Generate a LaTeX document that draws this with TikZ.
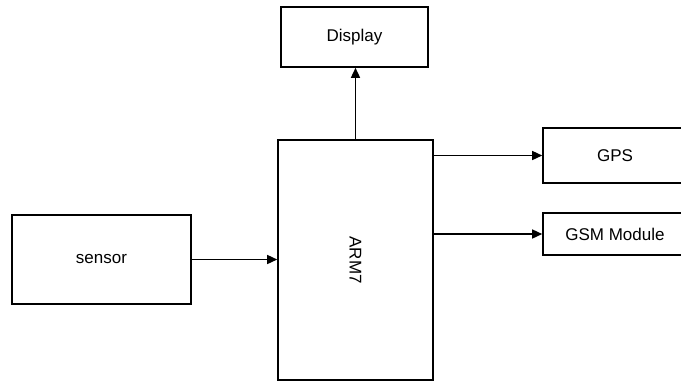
\documentclass[tikz,border=0pt]{standalone}
\usepackage{fontspec}
\setmainfont{Liberation Sans}
\usetikzlibrary{arrows.meta}
\begin{document}
\begin{tikzpicture}[x=1pt,y=-1pt,
  blk/.style={draw=black,line width=1.6pt,rectangle,inner sep=0pt,
    font=\fontsize{17}{20}\selectfont},
  conn/.style={line width=1.5pt,-{Triangle[length=10pt,width=9pt]}}]
\useasboundingbox (0,0) rectangle (681,381);
\node[blk,minimum width=147pt,minimum height=60pt] (disp) at (354.5,37) {Display};
\node[blk,minimum width=155pt,minimum height=240pt] (arm) at (355.5,260) {};
\node[font=\fontsize{17}{20}\selectfont,rotate=-90] (armlbl) at (arm.center) {ARM7};
\node[blk,minimum width=170pt,minimum height=55pt] (gps) at (628,155.5) {};
\node[font=\fontsize{17}{20}\selectfont] (gpslbl) at (615,155.5) {GPS};
\node[blk,minimum width=170pt,minimum height=42pt] (gsm) at (628,234) {};
\node[font=\fontsize{17}{20}\selectfont] (gsmlbl) at (615,234) {GSM Module};
\node[blk,minimum width=179pt,minimum height=89pt] (sensor) at (101.5,259.5) {sensor};
\draw[conn] (arm.north) -- (arm.north |- disp.south);
\draw[conn] (arm.east |- gps.west) -- (gps.west);
\draw[conn] (arm.east |- gsm.west) -- (gsm.west);
\draw[conn] (sensor.east) -- (sensor.east -| arm.west);
\end{tikzpicture}
\end{document}
